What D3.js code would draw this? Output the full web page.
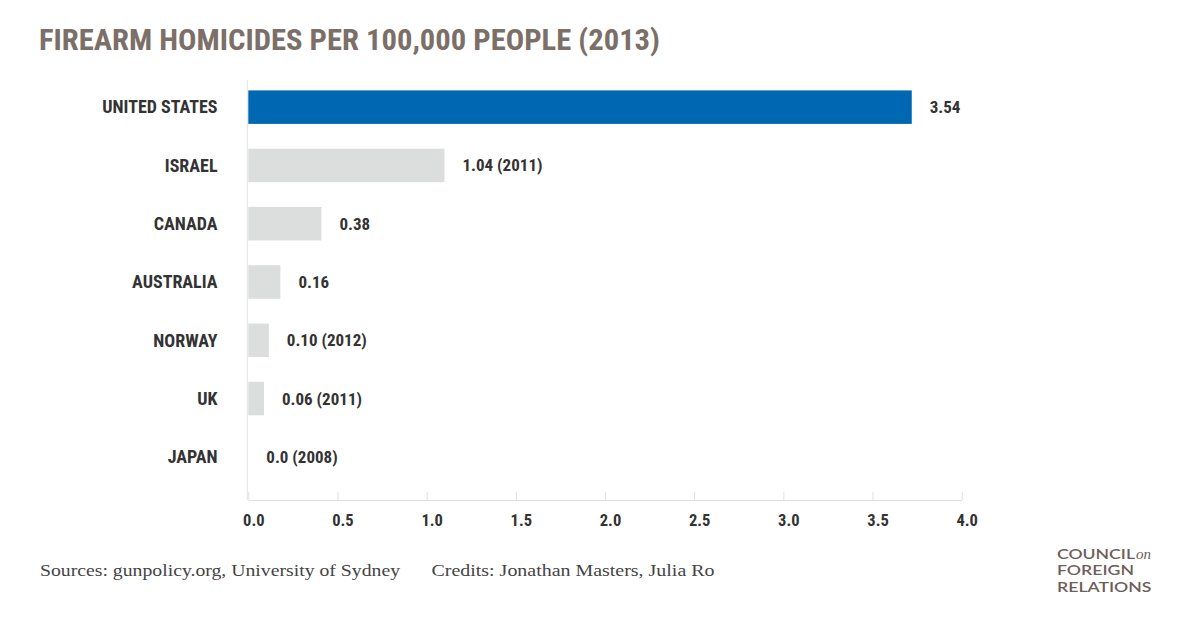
<!DOCTYPE html>
<html><head><meta charset="utf-8">
<script src="https://cdn.jsdelivr.net/npm/d3@7"></script>
<style>
html,body{margin:0;padding:0;background:#fff;}
svg{display:block;}
.cond{font-family:"Liberation Sans Narrow","Roboto Condensed","DejaVu Sans Condensed","Roboto",sans-serif;font-weight:700;}
</style></head>
<body>
<svg id="chart" width="1200" height="630"></svg>
<script>
const categories = ["UNITED STATES","ISRAEL","CANADA","AUSTRALIA","NORWAY","UK","JAPAN"];
const barValues = [3.72, 1.10, 0.41, 0.18, 0.115, 0.088, 0];
const valueLabels = ["3.54","1.04 (2011)","0.38","0.16","0.10 (2012)","0.06 (2011)","0.0 (2008)"];
const highlight = ["UNITED STATES"];
const xTicks = [0,0.5,1,1.5,2,2.5,3,3.5,4];
const titleText = "FIREARM HOMICIDES PER 100,000 PEOPLE (2013)";
const sourceText = "Sources: gunpolicy.org, University of Sydney";
const creditText = "Credits: Jonathan Masters, Julia Ro";
const logoLines = ["COUNCIL","FOREIGN","RELATIONS"];

const svg = d3.select("#chart");
const x = d3.scaleLinear().domain([0,4]).range([248.3,961.7]);
const y = d3.scaleBand().domain(categories).range([78,486]).paddingInner(0.425).paddingOuter(0.2125);
const axisY = 500;

// title
svg.append("text").attr("class","cond").attr("x",39).attr("y",50)
  .attr("font-size",30).attr("fill","#7b6f68")
  .attr("textLength",621).attr("lengthAdjust","spacingAndGlyphs")
  .text(titleText);

// vertical axis line
svg.append("line").attr("x1",x(0)-1).attr("x2",x(0)-1).attr("y1",80).attr("y2",axisY)
  .attr("stroke","#e3e3e3").attr("stroke-width",1);

// x axis
const xAxis = d3.axisBottom(x).tickValues(xTicks).tickFormat(d3.format(".1f")).tickSizeInner(-8).tickSizeOuter(0).tickPadding(16);
const gx = svg.append("g").attr("transform",`translate(0,${axisY})`).call(xAxis);
gx.select(".domain").attr("stroke","#e0e0e0");
gx.selectAll(".tick line").attr("stroke","#e0e0e0");
gx.selectAll(".tick text").attr("class","cond").attr("font-size",16.5).attr("fill","#333").attr("dy","0.32em").attr("y",21).attr("dx",5);

// bars
svg.append("g").selectAll("rect").data(categories).join("rect")
  .attr("x",x(0)).attr("y",d=>y(d))
  .attr("width",(d,i)=>x(barValues[i])-x(0))
  .attr("height",y.bandwidth())
  .attr("fill",d=>highlight.includes(d)?"#0068b3":"#dcdedd");

// category labels
svg.append("g").selectAll("text").data(categories).join("text")
  .attr("class","cond").attr("x",217.5).attr("y",d=>y(d)+y.bandwidth()/2)
  .attr("dy","0.35em").attr("text-anchor","end").attr("font-size",18).attr("fill","#333")
  .text(d=>d);

// value labels
svg.append("g").selectAll("text").data(categories).join("text")
  .attr("class","cond").attr("x",(d,i)=>x(barValues[i])+18).attr("y",d=>y(d)+y.bandwidth()/2)
  .attr("dy","0.35em").attr("font-size",17).attr("fill","#333")
  .text((d,i)=>valueLabels[i]);

// footer
svg.append("text").attr("x",40).attr("y",576).attr("font-family","Liberation Serif, DejaVu Serif, serif")
  .attr("font-size",17).attr("fill","#444").attr("textLength",360).attr("lengthAdjust","spacingAndGlyphs").text(sourceText);
svg.append("text").attr("x",431.5).attr("y",576).attr("font-family","Liberation Serif, DejaVu Serif, serif")
  .attr("font-size",17).attr("fill","#444").attr("textLength",283).attr("lengthAdjust","spacingAndGlyphs").text(creditText);

// logo
const logo = svg.append("g").attr("fill","#6e5d58").attr("font-family","Lato, 'Open Sans', sans-serif").attr("font-size",14).attr("font-weight",600);
logo.append("text").attr("x",1057).attr("y",558.5).attr("textLength",78).attr("lengthAdjust","spacingAndGlyphs").text(logoLines[0]);
logo.append("text").attr("x",1136).attr("y",558.5).attr("font-family","Liberation Serif, serif").attr("font-style","italic").attr("font-weight",400).attr("font-size",15).text("on");
logo.append("text").attr("x",1057).attr("y",575).attr("textLength",77).attr("lengthAdjust","spacingAndGlyphs").text(logoLines[1]);
logo.append("text").attr("x",1057).attr("y",591.7).attr("textLength",94.5).attr("lengthAdjust","spacingAndGlyphs").text(logoLines[2]);
</script>
</body></html>
